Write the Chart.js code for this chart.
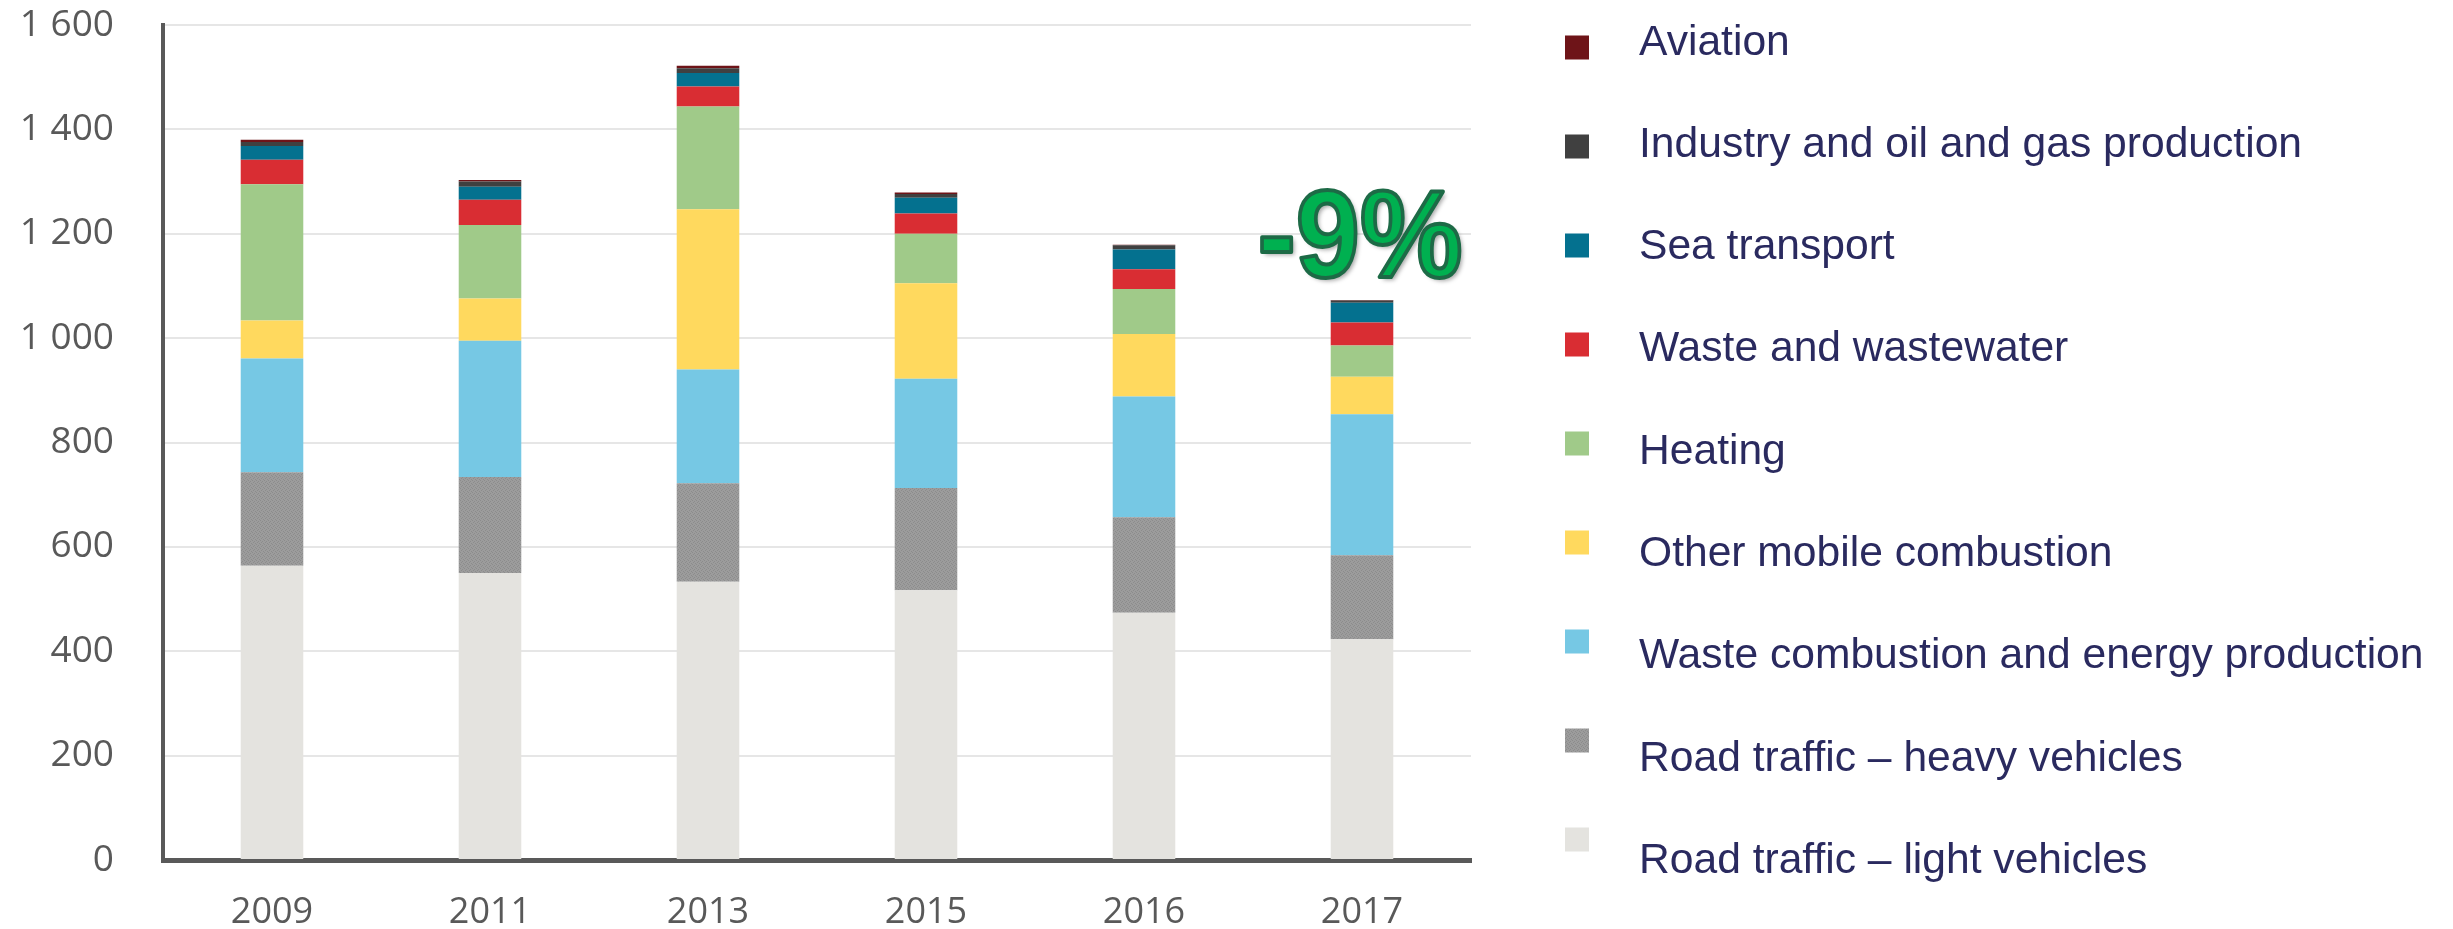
<!DOCTYPE html>
<html>
<head>
<meta charset="utf-8">
<script src="https://cdn.jsdelivr.net/npm/chart.js@4.4.1/dist/chart.umd.min.js"></script>
<style>
  html, body { margin: 0; padding: 0; background: #ffffff; }
  #wrap { position: relative; width: 2453px; height: 929px; }
</style>
</head>
<body>
<div id="wrap"><canvas id="c"></canvas></div>
<script>
// ---- data ----
const categories = ['2009', '2011', '2013', '2015', '2016', '2017'];
const roadLight = [564, 550, 533, 517, 474, 423];
const roadHeavy = [179, 184, 189, 196, 183, 161];
const wasteCombustionEnergy = [218, 261, 218, 209, 231, 270];
const otherMobile = [73, 81, 307, 183, 120, 72];
const heating = [261, 141, 197, 95, 86, 60];
const wasteWater = [47, 48, 38, 39, 38, 44];
const seaTransport = [26, 25, 26, 30, 38, 38];
const industryOilGas = [8, 10, 9, 7, 8, 4];
const aviation = [4, 3, 5, 3, 1, 1];
const yTickValues = [0, 200, 400, 600, 800, 1000, 1200, 1400, 1600];
const changeLabel = '-9%';

const seriesLabels = [
  'Road traffic \u2013 light vehicles',
  'Road traffic \u2013 heavy vehicles',
  'Waste combustion and energy production',
  'Other mobile combustion',
  'Heating',
  'Waste and wastewater',
  'Sea transport',
  'Industry and oil and gas production',
  'Aviation'
];
const seriesValues = [roadLight, roadHeavy, wasteCombustionEnergy, otherMobile, heating, wasteWater, seaTransport, industryOilGas, aviation];

// subtle texture for the heavy-vehicle grey, like the reference
function makeTexture(a, b) {
  const c = document.createElement('canvas');
  c.width = 4; c.height = 4;
  const g = c.getContext('2d');
  g.fillStyle = a; g.fillRect(0, 0, 4, 4);
  g.fillStyle = b;
  g.fillRect(0, 0, 1, 1); g.fillRect(2, 1, 1, 1); g.fillRect(1, 2, 1, 1); g.fillRect(3, 3, 1, 1);
  return g.createPattern(c, 'repeat');
}
const heavyFill = makeTexture('#9c9c9c', '#8c8c8c');

const seriesColors = ['#e4e3df', heavyFill, '#76c8e4', '#ffd95e', '#a0ca89', '#d92d33', '#04718f', '#404040', '#6e1418'];

const datasets = seriesLabels.map((label, i) => ({
  label: label,
  data: seriesValues[i],
  backgroundColor: seriesColors[i],
  borderWidth: 0,
  barPercentage: 0.287,
  categoryPercentage: 1.0
}));

function fmtTick(v) {
  return v >= 1000 ? Math.floor(v / 1000) + ' ' + String(v % 1000).padStart(3, '0') : String(v);
}

const sideLegend = {
  id: 'sideLegend',
  afterDraw(chart) {
    const ctx = chart.ctx;
    const area = chart.chartArea;
    const items = chart.data.datasets.slice().reverse();
    ctx.save();
    ctx.font = '42.6px "Liberation Sans", Arial, sans-serif';
    ctx.textAlign = 'left';
    ctx.textBaseline = 'alphabetic';
    items.forEach((ds, i) => {
      const sq = 24;
      const sx = area.right + 94;
      const sy = 47.5 + 99 * i - sq / 2;
      ctx.fillStyle = ds.backgroundColor;
      ctx.fillRect(sx, sy, sq, sq);
      ctx.fillStyle = '#2a2a5f';
      ctx.fillText(ds.label, area.right + 168, 54.5 + 102.3 * i);
    });
    ctx.restore();
  }
};

const changeNote = {
  id: 'changeNote',
  afterDraw(chart) {
    const ctx = chart.ctx;
    const xs = chart.scales.x, ys = chart.scales.y;
    const cx = xs.getPixelForValue(categories.length - 1) - 2;
    const by = ys.getPixelForValue(1117);
    ctx.save();
    ctx.translate(cx, by);
    ctx.scale(0.93, 1);
    ctx.font = 'bold 124px "Liberation Sans", Arial, sans-serif';
    ctx.textAlign = 'center';
    ctx.textBaseline = 'alphabetic';
    ctx.shadowColor = 'rgba(0,0,0,0.35)';
    ctx.shadowOffsetX = 3;
    ctx.shadowOffsetY = 3;
    ctx.shadowBlur = 4;
    ctx.fillStyle = '#00b050';
    ctx.fillText(changeLabel, 0, 0);
    ctx.shadowColor = 'rgba(0,0,0,0)';
    ctx.lineWidth = 4;
    ctx.lineJoin = 'round';
    ctx.strokeStyle = '#1d6a46';
    ctx.strokeText(changeLabel, 0, 0);
    ctx.restore();
  }
};

new Chart(document.getElementById('c'), {
  type: 'bar',
  data: { labels: categories, datasets: datasets },
  options: {
    responsive: true,
    maintainAspectRatio: false,
    animation: false,
    layout: { padding: { left: 0, top: 25, right: 982, bottom: 0 } },
    plugins: {
      legend: { display: false },
      tooltip: { enabled: false },
      title: { display: false }
    },
    scales: {
      x: {
        stacked: true,
        grid: { display: false, drawTicks: false },
        border: { display: true, color: '#595959', width: 5 },
        ticks: {
          color: '#595959',
          padding: 31,
          font: { family: '"Open Sans", sans-serif', size: 36 }
        },
        afterFit(s) { s.height = 69; s.paddingLeft = 0; s.paddingRight = 0; }
      },
      y: {
        stacked: true,
        min: 0,
        max: 1600,
        afterBuildTicks(s) { s.ticks = yTickValues.map(v => ({ value: v })); },
        grid: { color: '#e6e6e6', lineWidth: 2, drawTicks: false },
        border: { display: true, color: '#595959', width: 4 },
        ticks: {
          color: '#595959',
          padding: 49,
          font: { family: '"Open Sans", sans-serif', size: 37 },
          callback: (v) => fmtTick(v)
        },
        afterFit(s) { s.width = 163; s.paddingTop = 0; s.paddingBottom = 0; }
      }
    }
  },
  plugins: [sideLegend, changeNote]
});
</script>
</body>
</html>
